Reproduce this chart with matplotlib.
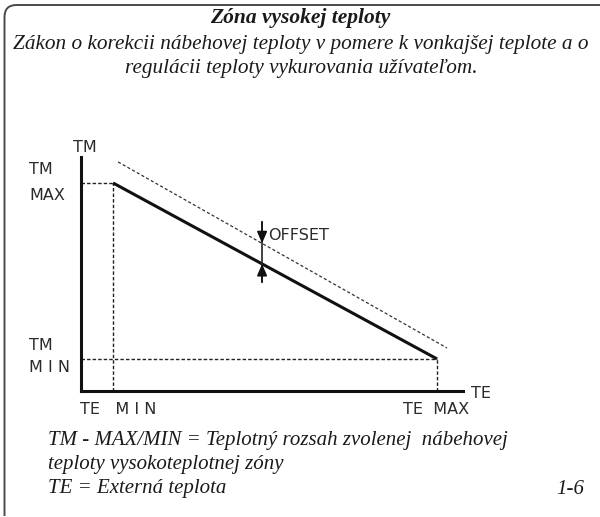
import numpy as np
import matplotlib
matplotlib.use("Agg")
import matplotlib.pyplot as plt
from matplotlib.path import Path
from matplotlib.patches import PathPatch

# ---- data (diagram units: TE 0..100 along x axis, TM 0..100 along y axis) ----
te_points = [8.4, 93.2]          # TE MIN, TE MAX
tm_points = [88.9, 13.7]         # TM MAX, TM MIN
offset_te = [9.7, 95.8]          # shifted (offset) curve
offset_tm = [97.9, 18.4]
arrow_te = 47.4                  # position of OFFSET arrow
arrow_span = [72.2, 46.6]        # shaft top / bottom

title = "Zóna vysokej teploty"
subtitle = ["Zákon o korekcii nábehovej teploty v pomere k vonkajšej teplote a o",
            "regulácii teploty vykurovania užívateľom."]
notes = ["TM - MAX/MIN = Teplotný rozsah zvolenej  nábehovej",
         "teploty vysokoteplotnej zóny",
         "TE = Externá teplota"]
fig_no = "1-6"

W, H = 600, 517
fig = plt.figure(figsize=(W / 100, H / 100), dpi=100)

# background axes in pixel coordinates for frame and text
bg = fig.add_axes([0, 0, 1, 1])
bg.set_xlim(0, W)
bg.set_ylim(H, 0)
bg.axis("off")

# frame with rounded top-left corner
r = 12
verts = [(4.5, 516), (4.5, 5 + r), (4.5, 5), (4.5 + r, 5), (W + 2, 5)]
codes = [Path.MOVETO, Path.LINETO, Path.CURVE3, Path.CURVE3, Path.LINETO]
bg.add_patch(PathPatch(Path(verts, codes), fill=False, ec="#4a4a4a", lw=1.4))

serif = ["Liberation Serif", "DejaVu Serif"]
tc = "#1a1a1a"
bg.text(300, 18, title, ha="center", va="center", fontsize=15.5, style="italic",
        weight="bold", family=serif, color=tc)
for i, s in enumerate(subtitle):
    bg.text(301, 44 + 25 * i, s, ha="center", va="center", fontsize=15.3,
            style="italic", family=serif, color=tc)
for i, s in enumerate(notes):
    bg.text(48, 440 + 24.5 * i, s, ha="left", va="center", fontsize=15.0,
            style="italic", family=serif, color=tc)
bg.text(584, 489, fig_no, ha="right", va="center", fontsize=15.0, style="italic",
        family=serif, color=tc)

# diagram labels
sans = ["DejaVu Sans"]
lab = dict(fontsize=11.5, family=sans, color="#2a2a2a", va="center")
bg.text(73, 147, "TM", ha="left", **lab)
bg.text(29, 170, "TM", ha="left", **lab)
bg.text(29, 196, "MAX", ha="left", **lab)
bg.text(29, 345, "TM", ha="left", **lab)
bg.text(29, 368, "M I N", ha="left", **lab)
bg.text(471, 393, "TE", ha="left", **lab)
bg.text(80, 410, "TE   M I N", ha="left", **lab)
bg.text(403, 410, "TE  MAX", ha="left", **lab)
bg.text(268, 235, "OFFSET", ha="left", **lab)

# diagram axes
ax = fig.add_axes([81 / W, (H - 391) / H, 382 / W, 234 / H])
ax.set_xlim(0, 100)
ax.set_ylim(0, 100)
ax.patch.set_alpha(0)
for s in ["top", "right"]:
    ax.spines[s].set_visible(False)
for s in ["left", "bottom"]:
    ax.spines[s].set_linewidth(2.2)
    ax.spines[s].set_color("#111111")
ax.set_xticks([])
ax.set_yticks([])

dot = dict(color="#222222", lw=1.0, ls=(0, (2.5, 1.5)), clip_on=False)
# reference lines
ax.plot([0, te_points[0]], [tm_points[0]] * 2, **dot)
ax.plot([te_points[0]] * 2, [0, tm_points[0]], **dot)
ax.plot([0, te_points[1]], [tm_points[1]] * 2, **dot)
ax.plot([te_points[1]] * 2, [0, tm_points[1]], **dot)
# offset curve
ax.plot(offset_te, offset_tm, color="#333333", lw=0.9, ls=(0, (2.5, 1.8)), clip_on=False)
# main curve
ax.plot(te_points, tm_points, color="#111111", lw=2.2, solid_capstyle="butt", clip_on=False)

# OFFSET arrow
y_dash = np.interp(arrow_te, offset_te, offset_tm)
y_main = np.interp(arrow_te, te_points, tm_points)
ax.plot([arrow_te] * 2, arrow_span, color="#222222", lw=1.2, clip_on=False)
ap = dict(arrowstyle="-|>,head_length=0.7,head_width=0.3", color="#111111", lw=1.2,
          shrinkA=0, shrinkB=0)
ax.annotate("", xy=(arrow_te, y_dash), xytext=(arrow_te, arrow_span[0]), arrowprops=ap)
ax.annotate("", xy=(arrow_te, y_main), xytext=(arrow_te, arrow_span[1]), arrowprops=ap)

fig.savefig("out.png", dpi=100)
